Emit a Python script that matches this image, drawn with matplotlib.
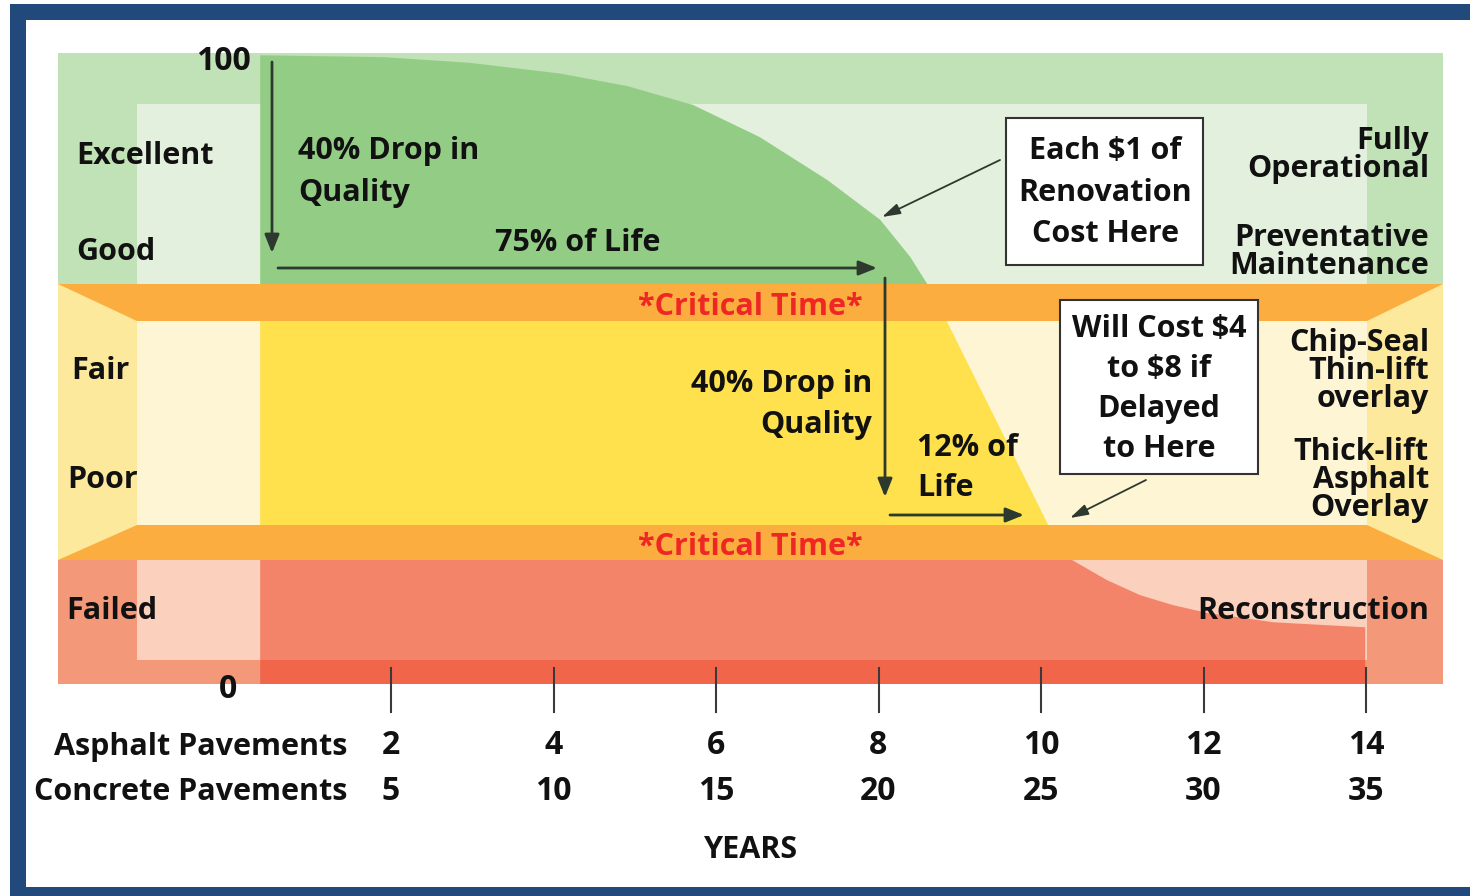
import matplotlib.pyplot as plt
from matplotlib.patches import Polygon, Rectangle
import numpy as np

plt.rcParams['font.family'] = ['Open Sans', 'DejaVu Sans']
plt.rcParams['font.weight'] = 'bold'

# pavement condition curve: asphalt age (years) vs condition index (0-100)
curve_years = [0.39, 1.91, 2.97, 4.08, 4.91, 5.72, 6.54, 7.37, 8.02, 8.39,
               8.60, 8.84, 10.09, 10.38, 10.81, 11.22, 11.63, 12.04, 12.86, 13.99]
curve_cond = [99.8, 99.5, 98.6, 96.9, 94.9, 91.9, 86.8, 80.0, 73.7, 67.8,
              63.5, 57.6, 25.2, 19.7, 16.5, 14.1, 12.5, 11.3, 9.8, 9.0]

asphalt_years = [2, 4, 6, 8, 10, 12, 14]
concrete_years = [5, 10, 15, 20, 25, 30, 35]
condition_names = ["Excellent", "Good", "Fair", "Poor", "Failed"]
treatments = [["Fully", "Operational"], ["Preventative", "Maintenance"],
              ["Chip-Seal", "Thin-lift", "overlay"],
              ["Thick-lift", "Asphalt", "Overlay"], ["Reconstruction"]]


# pixel -> data helpers for layout (x: years, y: condition)
def X(p):
    return (p - 228.5) / 81.25


def Y(p):
    return (684 - p) / 6.3


fig = plt.figure(figsize=(14.7, 8.96), dpi=100)
ax = fig.add_axes([0, 0, 1, 1])
ax.set_xlim(X(0), X(1470))
ax.set_ylim(Y(896), Y(0))
ax.axis('off')


def rect(x0, y0, x1, y1, color, **kw):
    r = Rectangle((X(x0), Y(y1)), X(x1) - X(x0), Y(y0) - Y(y1),
                  facecolor=color, edgecolor='none', **kw)
    ax.add_patch(r)
    return r


def poly(pts, color):
    ax.add_patch(Polygon([(X(a), Y(b)) for a, b in pts], closed=True,
                         facecolor=color, edgecolor='none'))


# navy frame
navy = '#21497b'
rect(10, 4, 1470, 20, navy)
rect(10, 4, 26, 896, navy)
rect(10, 887, 1470, 896, navy)

# zone frames
rect(58, 53, 1443, 284, '#c1e1b7')
rect(58, 284, 1443, 560, '#fde99b')
rect(58, 560, 1443, 684, '#f3997a')

# inner pale panels
rect(137, 104, 1367, 284, '#e3f0dd')
rect(137, 321, 1367, 525, '#fdf5d3')
rect(137, 560, 1367, 660, '#fbd0bd')

# region under the condition curve
under = Polygon([(curve_years[0], 0)] + list(zip(curve_years, curve_cond)) +
                [(curve_years[-1], 0)], closed=True, facecolor='none',
                edgecolor='none')
ax.add_patch(under)
for y0, y1, c in [(53, 284, '#93cd85'), (321, 525, '#fee14c'),
                  (560, 660, '#f3846a'), (660, 684, '#f1664a')]:
    r = rect(0, y0, 1367, y1, c)
    r.set_clip_path(under)

# orange critical bands with bevelled ends
orange = '#fbad3f'
poly([(58, 284), (1443, 284), (1367, 321), (137, 321)], orange)
poly([(137, 525), (1367, 525), (1443, 560), (58, 560)], orange)

FS = 22
DY = 3  # text baseline nudge (px)
txt = dict(color='#111111', fontsize=FS, fontweight='bold')
num = dict(color='#111111', fontsize=23, fontweight='bold')


def T(p):
    return Y(p + DY)


# y-axis end labels
ax.text(X(223), T(58), "100", ha='center', va='center', **num)
ax.text(X(228), T(686), "0", ha='center', va='center', **num)

# condition names on the left
for name, (px, py) in zip(condition_names,
                          [(76, 153), (76, 249), (71, 368), (67, 477), (66, 608)]):
    ax.text(X(px), T(py), name, ha='left', va='center', **txt)


def lines(px, py, step, rows, ha, size=FS):
    for i, row in enumerate(rows):
        ax.text(X(px), T(py + i * step), row, ha=ha, va='center',
                color='#111111', fontsize=size, fontweight='bold')


# treatments on the right
for rows, py in zip(treatments, [138, 235, 340, 449, 608]):
    lines(1429, py, 28, rows, 'right')

# arrows
dark = '#2d392e'


def arrow(p0, p1, lw=2.0, hw=0.4, hl=1.0, ms=11):
    ax.annotate('', xy=(X(p1[0]), Y(p1[1])), xytext=(X(p0[0]), Y(p0[1])),
                arrowprops=dict(arrowstyle=f'-|>,head_width={hw},head_length={hl}',
                                color=dark, lw=lw, shrinkA=0, shrinkB=0,
                                mutation_scale=ms))


arrow((272, 62), (272, 253))
arrow((278, 268), (877, 268))
arrow((885, 278), (885, 497))
arrow((890, 515), (1024, 515))
arrow((1000, 160), (882, 217), lw=1.3, hw=0.3, hl=1.0)
arrow((1146, 480), (1070, 518), lw=1.3, hw=0.3, hl=1.0)

# annotations
lines(298, 148, 42, ["40% Drop in", "Quality"], 'left')
ax.text(X(578), T(240), "75% of Life", ha='center', va='center', **txt)
lines(872, 381, 41, ["40% Drop in", "Quality"], 'right')
lines(917, 445, 40, ["12% of", "Life"], 'left')
for py in [304, 544]:
    ax.text(X(750), T(py), "*Critical Time*", ha='center', va='center',
            color='#ee2724', fontsize=FS, fontweight='bold')

# callout boxes
for x0, y0, x1, y1 in [(1006, 118, 1203, 265), (1060, 300, 1258, 474)]:
    ax.add_patch(Rectangle((X(x0), Y(y1)), X(x1) - X(x0), Y(y0) - Y(y1),
                           facecolor='white', edgecolor='#333333', lw=1.5))
lines(1105, 148, 41.5, ["Each $1 of", "Renovation", "Cost Here"], 'center')
lines(1159, 326, 40, ["Will Cost $4", "to $8 if", "Delayed", "to Here"], 'center')

# time axis
for a, c in zip(asphalt_years, concrete_years):
    ax.plot([a, a], [Y(668), Y(712)], color='#3a3a3a', lw=1.5)
    ax.text(a, T(742), str(a), ha='center', va='center', **num)
    ax.text(a, T(788), str(c), ha='center', va='center', **num)
ax.text(X(347), T(744), "Asphalt Pavements", ha='right', va='center', **txt)
ax.text(X(347), T(789), "Concrete Pavements", ha='right', va='center', **txt)
ax.text(X(751), T(847), "YEARS", ha='center', va='center', **txt)

fig.savefig("out.png", dpi=100, facecolor='white')
